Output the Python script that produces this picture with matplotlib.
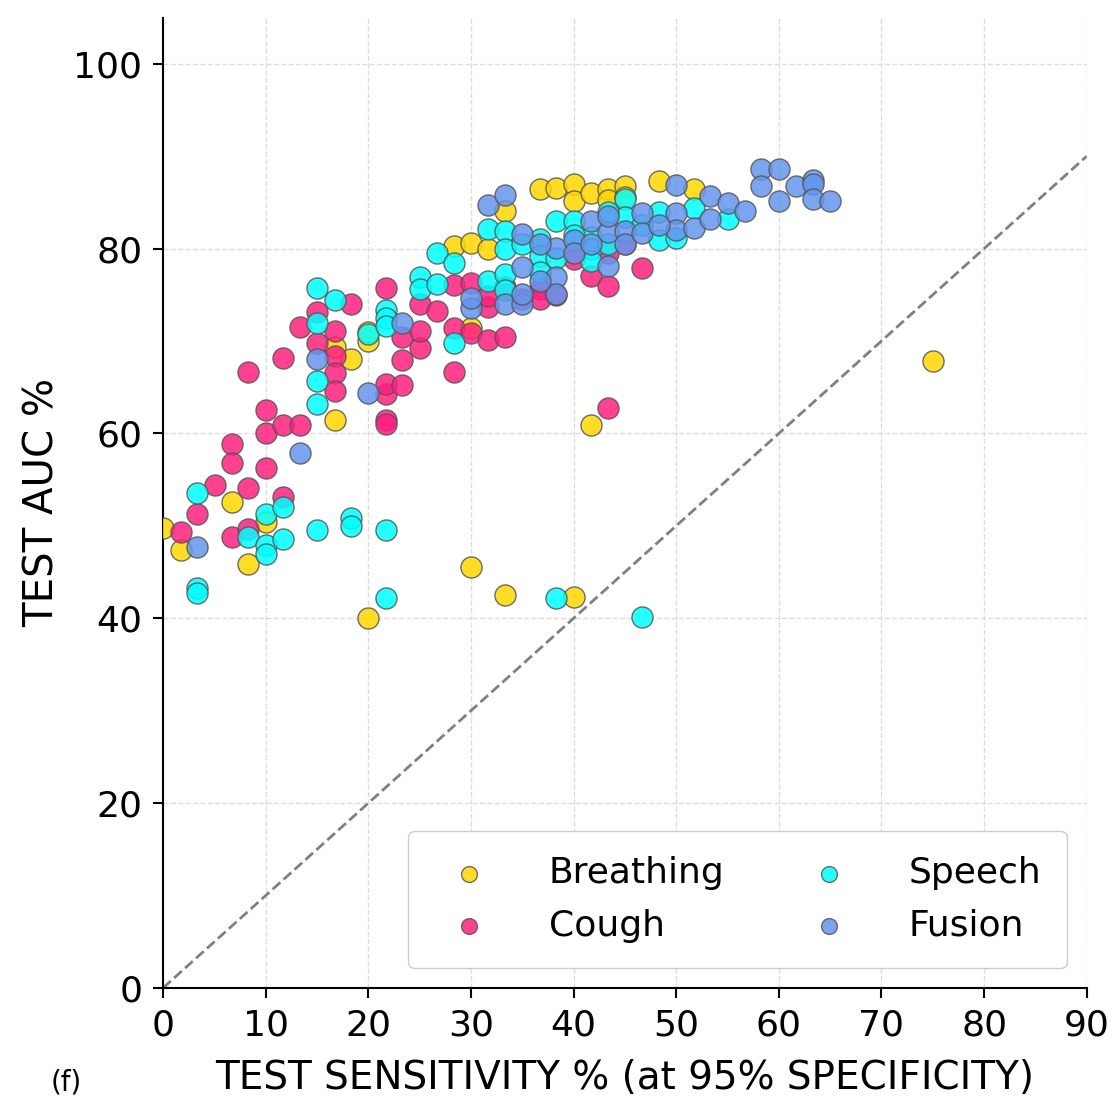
import matplotlib
matplotlib.use("Agg")
from matplotlib import pyplot as plt

# Test sensitivity (x) and test AUC (y) per modality
breathing_x = [0, 1.7, 6.7, 8.3, 10, 16.7, 16.7, 18.3, 20, 20, 20, 30, 33.3, 40, 41.7, 75,
               28.3, 30, 31.7, 33.3, 36.7, 38.3, 40, 40, 41.7, 43.3, 43.3, 45, 45, 48.3, 51.7, 30]
breathing_y = [49.8, 47.4, 52.6, 45.9, 50.4, 61.5, 69.3, 68.0, 70.0, 71.0, 40.0, 45.5, 42.5, 42.3, 60.9, 67.8,
               80.3, 80.6, 80.0, 84.1, 86.4, 86.6, 87.0, 85.1, 86.0, 86.4, 85.3, 86.8, 85.6, 87.3, 86.4, 71.4]

cough_x = [1.7, 3.3, 5, 6.7, 6.7, 6.7, 8.3, 8.3, 8.3, 10, 10, 10, 11.7, 11.7, 11.7, 13.3, 13.3,
           15, 15, 16.7, 16.7, 16.7, 16.7, 18.3, 21.7, 21.7, 21.7, 21.7, 21.7, 23.3, 23.3, 23.3,
           25, 25, 25, 26.7, 28.3, 28.3, 28.3, 30, 30, 31.7, 31.7, 31.7, 33.3, 36.7, 40, 41.7,
           43.3, 43.3, 46.7, 35, 36.7, 38.3, 33.3, 45, 43.3]
cough_y = [49.3, 51.3, 54.4, 48.8, 58.8, 56.8, 54.1, 49.7, 66.6, 62.5, 60.0, 56.3, 60.9, 68.2, 53.1, 60.9, 71.5,
           73.1, 69.8, 71.1, 68.4, 66.5, 64.6, 74.0, 75.7, 64.3, 61.5, 61.0, 65.4, 70.4, 67.9, 65.2,
           69.2, 71.1, 74.0, 73.2, 76.1, 71.4, 66.6, 76.3, 70.9, 73.7, 74.9, 70.1, 70.4, 75.6, 78.9, 77.0,
           76.0, 62.8, 77.9, 74.5, 74.5, 75.0, 75.8, 80.5, 79.5]

speech_x = [3.3, 3.3, 3.3, 8.3, 10, 10, 10, 11.7, 11.7, 15, 18.3, 18.3, 21.7, 21.7, 38.3, 46.7,
            15, 16.7, 15, 15, 15, 20, 21.7, 21.7, 21.7, 25, 25, 26.7, 26.7, 28.3, 28.3,
            31.7, 33.3, 33.3, 31.7, 33.3, 33.3, 36.7, 36.7, 38.3, 40, 41.7, 41.7, 41.7,
            45, 45, 48.3, 48.3, 50, 51.7, 55, 35, 36.7, 40, 43.3, 43.3, 46.7, 38.3]
speech_y = [53.5, 43.3, 42.7, 48.8, 51.3, 47.9, 47.0, 52.0, 48.6, 49.5, 50.8, 50.0, 49.5, 42.2, 42.2, 40.1,
            75.7, 74.4, 71.9, 65.7, 63.2, 70.8, 73.4, 72.5, 71.6, 76.9, 75.6, 79.5, 76.2, 78.4, 69.8,
            82.1, 81.9, 80.0, 76.5, 77.3, 75.5, 81.0, 79.2, 83.0, 83.0, 81.3, 80.0, 78.7,
            85.4, 83.4, 84.0, 80.9, 81.1, 84.4, 83.2, 80.5, 77.5, 81.5, 84.0, 80.5, 82.5, 79.0]

fusion_x = [3.3, 13.3, 15, 20, 23.3, 30, 30, 33.3, 35, 31.7, 33.3, 35, 35, 35, 38.3, 38.3, 38.3,
            40, 41.7, 43.3, 43.3, 45, 45, 46.7, 46.7, 50, 50, 50, 51.7, 53.3, 53.3, 55, 56.7,
            58.3, 58.3, 60, 60, 61.7, 63.3, 63.3, 63.3, 65, 36.7, 40, 41.7, 43.3, 48.3, 36.7]
fusion_y = [47.7, 57.9, 68.1, 64.4, 72.0, 73.6, 74.6, 74.0, 74.0, 84.7, 85.8, 81.6, 78.0, 75.1, 80.1, 76.9, 75.1,
            80.9, 83.0, 81.8, 78.1, 81.9, 80.5, 83.8, 81.7, 86.9, 83.9, 82.0, 82.2, 85.7, 83.2, 84.9, 84.1,
            88.6, 86.8, 88.6, 85.2, 86.8, 87.4, 87.0, 85.4, 85.2, 80.5, 79.5, 80.5, 83.5, 82.5, 76.5]

series = [
    ("Breathing", breathing_x, breathing_y, "gold"),
    ("Cough", cough_x, cough_y, "#ff1f7f"),
    ("Speech", speech_x, speech_y, "cyan"),
    ("Fusion", fusion_x, fusion_y, "cornflowerblue"),
]

fig = plt.figure(figsize=(11.18, 11.0), dpi=100)
ax = fig.add_axes([0.146, 0.102, 0.826, 0.882])

for name, xs, ys, color in series:
    ax.scatter(xs, ys, s=230, color=color, alpha=0.85, edgecolors="#555555", linewidths=1.0, label=name, zorder=3)

ax.plot([0, 90], [0, 90], linestyle="--", color="gray", linewidth=2, zorder=2)

ax.set_xlim(0, 90)
ax.set_ylim(0, 105)
ax.set_xticks(range(0, 91, 10))
ax.set_yticks(range(0, 101, 20))
ax.grid(True, linestyle="--", color="#dddddd", linewidth=1)
ax.spines["top"].set_visible(False)
ax.spines["right"].set_visible(False)
ax.spines["left"].set_linewidth(1.5)
ax.spines["bottom"].set_linewidth(1.5)
ax.tick_params(labelsize=26, length=7, width=1.5)
ax.tick_params(axis="y", pad=8)
ax.tick_params(axis="x", pad=8)

ax.set_xlabel("TEST SENSITIVITY % (at 95% SPECIFICITY)", fontsize=28, labelpad=12)
ax.set_ylabel("TEST AUC %", fontsize=29, labelpad=8)

ax.legend(loc="lower right", ncol=2, fontsize=26, markerscale=0.75, borderpad=0.7,
          handletextpad=1.2, columnspacing=1.9, labelspacing=0.5, framealpha=1,
          bbox_to_anchor=(0.998, 0.002))

fig.text(0.045, 0.003, "(f)", fontsize=20, va="bottom")

fig.savefig("out.png", dpi=100)
